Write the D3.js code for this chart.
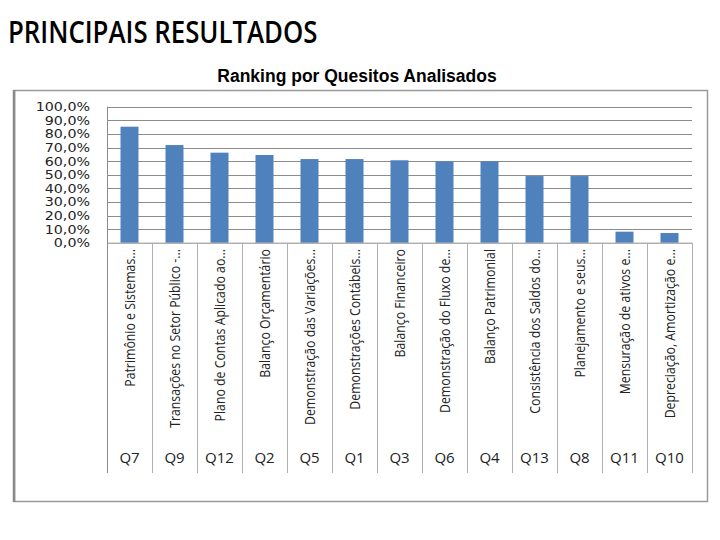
<!DOCTYPE html>
<html><head><meta charset="utf-8">
<script src="https://cdn.jsdelivr.net/npm/d3@7"></script>
<style>body{margin:0;background:#fff}svg{display:block}</style>
</head><body>
<svg id="c" width="720" height="540"></svg>
<script>
const codes = ["Q7","Q9","Q12","Q2","Q5","Q1","Q3","Q6","Q4","Q13","Q8","Q11","Q10"];
const names = ["Patrimônio e Sistemas...","Transações no Setor Público -...","Plano de Contas Aplicado ao...","Balanço Orçamentário","Demonstração das Variações...","Demonstrações Contábeis...","Balanço Financeiro","Demonstração do Fluxo de...","Balanço Patrimonial","Consistência dos Saldos do...","Planejamento e seus...","Mensuração de ativos e...","Depreciação, Amortização e..."];
const values = [0.853,0.718,0.662,0.645,0.615,0.615,0.606,0.598,0.598,0.49,0.49,0.081,0.071];
const yTicks = [0,0.1,0.2,0.3,0.4,0.5,0.6,0.7,0.8,0.9,1.0];
const title = "PRINCIPAIS RESULTADOS";
const subtitle = "Ranking por Quesitos Analisados";

const svg = d3.select("#c");
const narrow = "'Open Sans','Noto Sans',sans-serif";

svg.append("text").attr("transform","translate(8,43) scale(0.86,1)").text(title)
  .style("font-family",narrow).style("font-size","30px").style("font-weight","600").style("fill","#000");
svg.append("text").attr("x",357).attr("y",82).attr("text-anchor","middle").text(subtitle)
  .style("font-family","'Liberation Sans',Arial,sans-serif").style("font-weight","bold").style("font-size","17.5px");

// frame
svg.append("rect").attr("x",14.5).attr("y",90.5).attr("width",693).attr("height",411)
  .attr("fill","none").attr("stroke","#9a9a9a").attr("stroke-width",1.5);
svg.append("line").attr("x1",14).attr("x2",14).attr("y1",90).attr("y2",502).attr("stroke","#888").attr("stroke-width",2.5);

const L=107, R=692, T=106.7, B=242.7;
const x = d3.scaleBand().domain(codes).range([L,R]).paddingInner(0.6).paddingOuter(0.3);
const xb = d3.scaleBand().domain(codes).range([L,R]);
const y = d3.scaleLinear().domain([0,1]).range([B,T]);

// gridlines
svg.append("g").selectAll("line").data(yTicks.filter(d=>d>0)).join("line")
  .attr("x1",L).attr("x2",R).attr("y1",d=>Math.round(y(d))+0.5).attr("y2",d=>Math.round(y(d))+0.5)
  .attr("stroke","#8c8c8c").attr("stroke-width",1);

// y axis labels
const fmt = d=> (d*100).toFixed(1).replace(".",",")+"%";
svg.append("g").selectAll("text").data(yTicks).join("text")
  .attr("transform",d=>`translate(90,${y(d)+4.5}) scale(1.24,1)`).attr("text-anchor","end").text(fmt)
  .style("font-family","'DejaVu Sans',Verdana,sans-serif").style("font-size","11.5px").style("fill","#222");

// bars
svg.append("g").selectAll("rect").data(codes).join("rect")
  .attr("x",d=>x(d)).attr("width",x.bandwidth())
  .attr("y",(d,i)=>y(values[i])).attr("height",(d,i)=>B-y(values[i]))
  .attr("fill","#4F81BD");

// axis lines
svg.append("line").attr("x1",L+0.5).attr("x2",L+0.5).attr("y1",T).attr("y2",473).attr("stroke","#8c8c8c");
svg.append("line").attr("x1",L).attr("x2",R).attr("y1",B+0.5).attr("y2",B+0.5).attr("stroke","#8c8c8c");
svg.append("g").selectAll("line").data(codes).join("line")
  .attr("x1",d=>Math.round(xb(d)+xb.bandwidth())+0.5).attr("x2",d=>Math.round(xb(d)+xb.bandwidth())+0.5)
  .attr("y1",B).attr("y2",473).attr("stroke","#b0b0b0");

// category names rotated
svg.append("g").selectAll("text").data(codes).join("text")
  .attr("transform",(d,i)=>`translate(${xb(d)+xb.bandwidth()/2+5},249) rotate(-90) scale(0.85,1)`)
  .attr("text-anchor","end").text((d,i)=>names[i])
  .style("font-family",narrow).style("font-size","14.5px").style("fill","#222");

// codes
svg.append("g").selectAll("text").data(codes).join("text")
  .attr("x",d=>xb(d)+xb.bandwidth()/2).attr("y",463).attr("text-anchor","middle").text(d=>d)
  .style("font-family",narrow).style("font-size","15px").style("fill","#222");
</script>
</body></html>
